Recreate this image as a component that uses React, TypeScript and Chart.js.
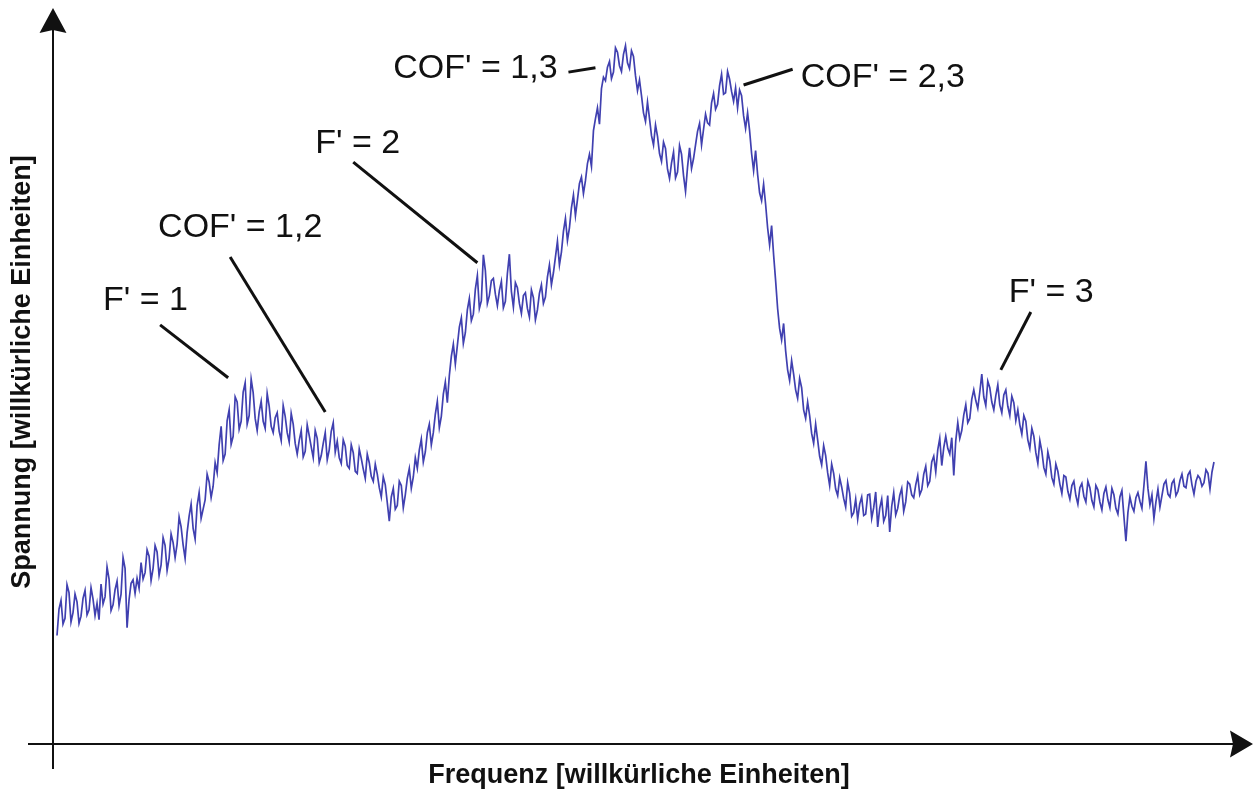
import React, { useEffect, useRef } from "react";
import { Chart, registerables } from "chart.js";

Chart.register(...registerables);

// Spannung (arbitrary units, 0..100), samples at integer frequency steps
const spannung: number[] = [
  15.2, 20.1, 17.6, 21.2, 18.4, 19.9, 17.9, 21.5, 18.8, 20.3,
  19.7, 22.4, 20.6, 23.1, 19.5, 22.8, 21.0, 24.6, 20.2, 23.0,
  23.2, 25.4, 24.0, 26.3, 24.6, 26.9, 25.1, 27.8, 26.0, 28.2,
  28.0, 30.4, 26.0, 31.9, 30.2, 33.4, 31.6, 34.2, 36.7, 36.1,
  38.0, 44.5, 40.6, 46.8, 43.1, 47.9, 45.2, 50.6, 46.0, 49.2,
  43.9, 48.0, 44.2, 47.3, 43.6, 46.4, 42.5, 45.9, 42.3, 44.8,
  40.6, 43.9, 41.0, 43.2, 40.1, 42.8, 40.4, 43.6, 41.2, 45.0,
  42.4, 39.3, 41.7, 38.6, 40.8, 37.9, 40.0, 37.2, 39.4, 36.8,
  37.8, 34.6, 36.3, 31.2, 35.8, 33.4, 36.2, 34.9, 38.6, 37.4,
  38.6, 42.7, 40.9, 44.8, 43.6, 48.0, 45.9, 50.7, 51.6, 56.0,
  55.8, 59.7, 57.6, 62.4, 60.2, 65.6, 62.1, 66.3, 62.8, 65.2,
  61.4, 64.8, 62.0, 68.6, 61.2, 63.9, 60.3, 63.2, 59.8, 62.5,
  60.8, 64.3, 62.6, 67.1, 66.0, 70.4, 68.9, 73.6, 72.3, 76.9,
  76.2, 79.4, 78.9, 82.6, 85.9, 89.1, 91.8, 92.9, 95.6, 94.1,
  96.9, 94.2, 97.8, 94.6, 96.3, 91.5, 90.8, 87.2, 87.6, 83.9,
  85.1, 81.6, 83.4, 79.2, 82.9, 80.1, 82.6, 77.4, 83.5, 82.0,
  85.8, 83.9, 88.2, 86.7, 91.1, 89.6, 93.8, 91.2, 93.1, 90.0,
  89.1, 90.8, 86.2, 85.9, 80.3, 79.8, 76.1, 75.6, 69.9, 68.5,
  61.0, 56.6, 55.1, 50.9, 51.8, 48.4, 49.9, 45.6, 46.0, 42.1,
  42.6, 39.1, 40.4, 36.2, 37.9, 34.8, 36.0, 33.2, 35.1, 32.4,
  31.5, 34.6, 32.2, 35.0, 33.1, 30.4, 34.3, 32.0, 29.7, 35.2,
  33.0, 35.8, 33.9, 36.4, 34.5, 37.6, 35.6, 38.9, 36.8, 40.3,
  41.2, 39.0, 43.1, 40.6, 37.6, 45.0, 43.9, 47.5, 45.6, 49.6,
  47.0, 51.8, 47.4, 49.9, 46.8, 50.3, 46.4, 49.6, 46.0, 47.8,
  46.8, 43.4, 45.2, 41.4, 43.1, 39.3, 41.0, 37.8, 39.6, 36.4,
  38.2, 35.1, 37.4, 34.3, 36.8, 33.6, 36.5, 33.9, 35.9, 33.2,
  35.6, 32.8, 36.0, 33.1, 34.9, 32.2, 35.5, 28.4, 34.6, 32.6,
  35.2, 33.0, 39.6, 33.5, 31.6, 35.7, 34.8, 36.9, 34.6, 37.0,
  35.4, 37.8, 35.9, 38.2, 35.0, 37.6, 36.1, 38.4, 35.7, 39.5,
];

// Spannung at the half steps between the samples above
const spannungMitte: number[] = [
  18.9, 16.8, 22.3, 17.1, 21.0, 16.9, 20.4, 18.1, 21.9, 18.0,
  17.4, 19.6, 24.8, 18.7, 21.6, 19.4, 26.1, 16.3, 22.5, 21.1,
  21.8, 23.1, 27.2, 22.9, 27.8, 23.6, 28.9, 24.3, 29.4, 26.1,
  31.8, 27.9, 29.6, 33.6, 28.7, 35.2, 32.9, 37.8, 34.5, 39.4,
  41.9, 39.7, 45.3, 42.0, 48.6, 44.1, 49.3, 44.8, 51.1, 45.6,
  46.5, 45.2, 49.1, 44.5, 45.7, 43.8, 47.4, 43.6, 46.3, 42.1,
  42.5, 40.2, 44.7, 41.6, 43.9, 39.4, 42.1, 39.8, 43.8, 40.9,
  40.1, 42.6, 39.0, 41.9, 38.2, 41.3, 38.5, 40.6, 37.5, 39.2,
  35.9, 37.4, 33.8, 34.6, 32.9, 36.8, 33.1, 37.2, 35.8, 40.1,
  41.2, 39.5, 43.6, 41.9, 46.2, 44.3, 49.0, 47.8, 54.3, 53.2,
  58.4, 56.1, 60.8, 59.3, 63.7, 61.0, 68.5, 61.7, 64.9, 63.0,
  63.5, 61.1, 65.9, 63.4, 64.6, 61.7, 62.8, 61.0, 63.6, 59.4,
  63.1, 61.7, 65.4, 64.3, 68.2, 67.1, 71.8, 70.5, 75.1, 74.0,
  78.5, 77.1, 81.3, 80.9, 87.6, 86.8, 93.4, 94.8, 93.2, 97.5,
  95.0, 96.6, 95.4, 97.1, 93.6, 93.0, 88.4, 89.9, 85.2, 86.7,
  82.7, 84.3, 80.5, 81.4, 79.3, 83.8, 79.6, 80.8, 80.6, 83.9,
  86.9, 86.1, 87.0, 89.8, 88.9, 92.2, 91.0, 94.2, 91.4, 91.9,
  91.6, 88.0, 88.4, 82.7, 83.1, 77.2, 78.4, 72.3, 72.6, 64.9,
  58.2, 58.9, 52.4, 53.7, 49.6, 51.2, 46.8, 47.9, 43.5, 44.8,
  40.3, 41.8, 38.0, 39.2, 35.7, 37.3, 34.4, 36.6, 31.9, 34.3,
  33.6, 32.0, 34.9, 31.6, 35.3, 33.0, 31.2, 34.8, 33.3, 32.1,
  34.8, 32.6, 36.7, 34.9, 36.3, 34.9, 37.8, 36.2, 39.5, 38.1,
  42.8, 41.5, 41.4, 42.9, 42.5, 42.8, 46.1, 45.0, 48.3, 48.1,
  49.3, 48.6, 50.8, 47.9, 48.8, 47.5, 48.9, 47.3, 48.7, 45.3,
  44.7, 46.0, 42.6, 44.2, 40.8, 42.5, 38.7, 40.9, 37.3, 39.2,
  36.4, 37.6, 35.4, 36.2, 34.8, 35.9, 34.7, 36.8, 34.1, 36.2,
  33.9, 35.1, 34.2, 35.8, 33.0, 34.6, 31.9, 32.4, 33.3, 34.5,
  34.0, 36.2, 35.8, 34.9, 33.9, 33.2, 36.4, 35.0, 36.5, 34.8,
  36.9, 36.1, 37.7, 36.3, 36.8, 37.2, 36.6, 37.9, 38.1,
];

// Frequency steps (arbitrary units)
const frequenz: number[] = spannung.map((_, i) => i);
const frequenzMitte: number[] = spannungMitte.map((_, i) => i + 0.5);

const xAxisTitle = "Frequenz [willkürliche Einheiten]";
const yAxisTitle = "Spannung [willkürliche Einheiten]";

// Peak labels
const peakLabels: string[] = ["F' = 1", "COF' = 1,2", "F' = 2", "COF' = 1,3", "COF' = 2,3", "F' = 3"];

// Label anchors (frequency, voltage) – left/baseline of each label
const labelAnchors: number[][] = [
  [11.5, 60.8], [25.25, 71.0], [64.5, 82.8], [84, 93.3], [185.75, 92.0], [237.75, 61.9],
];

// Leader lines: [f1, v1, f2, v2]
const leaderLines: number[][] = [
  [25.75, 58.7, 42.75, 51.3],
  [43.25, 68.2, 67, 46.5],
  [74, 81.5, 105, 67.4],
  [127.75, 94.1, 134.5, 94.7],
  [171.5, 92.3, 183.75, 94.5],
  [243.25, 60.5, 235.75, 52.4],
];

const W = 1255;
const H = 789;

const decorPlugin = {
  id: "decor",
  beforeDatasetsDraw(chart: any) {
    const { ctx, chartArea } = chart;
    const x0 = chartArea.left;
    const y0 = chartArea.bottom;
    ctx.save();
    ctx.strokeStyle = "#111";
    ctx.fillStyle = "#111";
    ctx.lineWidth = 2;
    ctx.beginPath();
    ctx.moveTo(x0, 769);
    ctx.lineTo(x0, 30);
    ctx.stroke();
    ctx.beginPath();
    ctx.moveTo(28, y0);
    ctx.lineTo(1234, y0);
    ctx.stroke();
    ctx.beginPath();
    ctx.moveTo(x0, 8);
    ctx.lineTo(x0 + 13.5, 33);
    ctx.lineTo(x0, 30);
    ctx.lineTo(x0 - 13.5, 33);
    ctx.closePath();
    ctx.fill();
    ctx.beginPath();
    ctx.moveTo(1253, y0);
    ctx.lineTo(1230, y0 - 13.5);
    ctx.lineTo(1233, y0);
    ctx.lineTo(1230, y0 + 13.5);
    ctx.closePath();
    ctx.fill();

    ctx.font = "bold 27px 'Liberation Sans', Arial, sans-serif";
    ctx.textAlign = "center";
    ctx.textBaseline = "alphabetic";
    ctx.fillText(xAxisTitle, 639, 783);
    ctx.save();
    ctx.translate(30, 372);
    ctx.rotate(-Math.PI / 2);
    ctx.fillText(yAxisTitle, 0, 0);
    ctx.restore();
    ctx.restore();
  },
  afterDatasetsDraw(chart: any) {
    const { ctx, scales } = chart;
    const xs = scales.x;
    const ys = scales.y;
    ctx.save();
    ctx.strokeStyle = "#111";
    ctx.lineWidth = 3;
    leaderLines.forEach((l) => {
      ctx.beginPath();
      ctx.moveTo(xs.getPixelForValue(l[0]), ys.getPixelForValue(l[1]));
      ctx.lineTo(xs.getPixelForValue(l[2]), ys.getPixelForValue(l[3]));
      ctx.stroke();
    });
    ctx.fillStyle = "#111";
    ctx.font = "34px 'Liberation Sans', Arial, sans-serif";
    ctx.textAlign = "left";
    ctx.textBaseline = "alphabetic";
    peakLabels.forEach((t, i) => {
      const a = labelAnchors[i];
      ctx.fillText(t, xs.getPixelForValue(a[0]), ys.getPixelForValue(a[1]));
    });
    ctx.restore();
  },
};

function buildPoints() {
  const pts: { x: number; y: number }[] = [];
  spannung.forEach((v, i) => {
    pts.push({ x: frequenz[i], y: v });
    if (i < spannungMitte.length) pts.push({ x: frequenzMitte[i], y: spannungMitte[i] });
  });
  return pts;
}

export default function App() {
  const ref = useRef<HTMLCanvasElement | null>(null);
  useEffect(() => {
    if (!ref.current) return;
    const chart = new Chart(ref.current, {
      type: "line",
      data: {
        datasets: [
          {
            label: "Spannung",
            data: buildPoints(),
            borderColor: "#4040b0",
            borderWidth: 1.7,
            pointRadius: 0,
            tension: 0,
            fill: false,
          },
        ],
      },
      options: {
        animation: false,
        responsive: false,
        maintainAspectRatio: false,
        layout: { padding: { left: 53, right: 25, top: 30, bottom: 45 } },
        plugins: { legend: { display: false }, tooltip: { enabled: false }, title: { display: false } },
        scales: {
          x: { type: "linear", min: -1, max: 293, display: false },
          y: { type: "linear", min: 0, max: 100, display: false },
        },
      },
      plugins: [decorPlugin],
    });
    return () => chart.destroy();
  }, []);
  return (
    <div style={{ position: "fixed", left: 0, top: 0, width: W, height: H, background: "#fff" }}>
      <canvas ref={ref} width={W} height={H} style={{ display: "block", width: W, height: H }} />
    </div>
  );
}
